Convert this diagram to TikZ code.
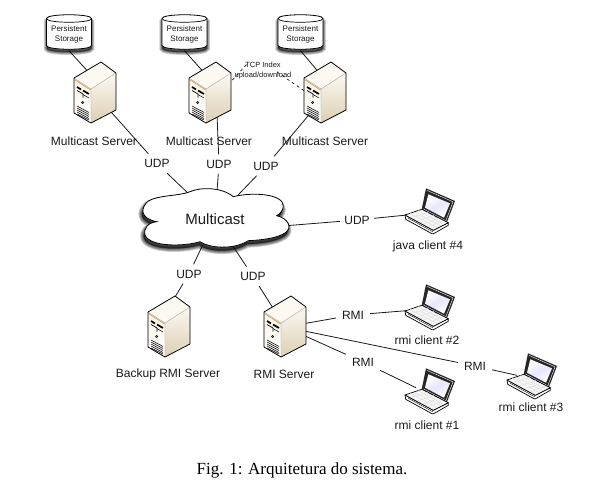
\documentclass[tikz,border=0pt]{standalone}
\usepackage{fontspec}
\setmainfont{Liberation Sans}
\newfontfamily\capfont{Liberation Serif}
\usetikzlibrary{shapes.geometric}
\pgfdeclarelayer{back}
\pgfsetlayers{back,main}
\definecolor{inkc}{HTML}{1A1A1A}
\definecolor{creamA}{HTML}{F8F3E6}
\definecolor{creamB}{HTML}{DCCFB2}
\definecolor{creamC}{HTML}{FBF9F2}
\definecolor{stripe}{HTML}{D9A860}
\newcommand{\cloudoutline}{(190,191.7) .. controls (200,187) and (222,187) .. (233.3,196.7)
 .. controls (253.3,191.7) and (283.3,194) .. (283.3,206) .. controls (283.3,210) and (280,214) .. (276.7,215.7)
 .. controls (288.3,218.3) and (293,228) .. (285,233) .. controls (276.7,238.3) and (262,240) .. (248.3,240.7)
 .. controls (233.3,250) and (210,248.3) .. (200,241.7)
 .. controls (183.3,246.7) and (150,247) .. (145,235) .. controls (143.3,228) and (148,222.7) .. (156.7,221.7)
 .. controls (140,218.3) and (140,208.3) .. (148.3,201) .. controls (158.3,195) and (180,196) .. (190,191.7) -- cycle}
\newcommand{\cylshadow}{(-22.5,-15.5) -- (-22.5,11.5) .. controls (-22.5,16.5) and (22.5,16.5) .. (22.5,11.5) -- (22.5,-15.5) .. controls (22.5,-20.5) and (-22.5,-20.5) .. (-22.5,-15.5) -- cycle}
\tikzset{
  x=1pt,y=-1pt,
  link/.style={draw=inkc,line width=.8pt},
  dashlink/.style={draw=inkc,line width=.7pt,dash pattern=on 3pt off 3pt},
  lab/.style={font=\fontsize{12}{14}\selectfont,text=inkc,inner sep=0pt},
  tag/.style={lab,minimum width=34pt,minimum height=19pt},
  srvnode/.style={circle,minimum size=40pt,inner sep=0pt},
  lapnode/.style={circle,minimum size=24pt,inner sep=0pt},
  cylnode/.style={rectangle,minimum width=45pt,minimum height=33pt,inner sep=0pt,align=center,
     font=\fontsize{8}{10}\selectfont,text=inkc},
  serverpic/.pic={
    \begin{scope}[shift={(-21,-15)},line join=round]
      \path[fill=creamC] (0,0) -- (27,-16) -- (42,-5) -- (17,11) -- cycle;
      \path[top color=creamC,bottom color=creamB] (17,11) -- (42,-5) -- (42,32) -- (17,45) -- cycle;
      \path[top color=creamA,bottom color=white] (0,0) -- (17,11) -- (17,45) -- (0,35) -- cycle;
      \draw[stripe,line width=.8pt] (.6,1.6) -- (16.6,12);
      \draw[black,line width=1.7pt] (3,9) -- (7,11.5) (9,12.5) -- (15,16);
      \draw[black,line width=.7pt] (3,12.5) -- (9,16) -- (9,19.5);
      \draw[black,line width=.5pt] (9,16.5) -- (15,20);
      \fill[black] (8.7,24.5) circle[radius=1.5pt];
      \fill[white] (8.7,24.5) circle[radius=.4pt];
      \draw[black,line width=.55pt] (3,28) -- (15,34.5) (3,30) -- (15,36.5) (3,32) -- (15,38.5) (3,34) -- (15,40.5) (3,36) -- (15,42);
      \draw[black,line width=.8pt] (0,0) -- (27,-16) -- (42,-5) -- (42,32) -- (17,45) -- (0,35) -- cycle;
      \draw[black,line width=.3pt,opacity=.4] (0,0) -- (17,11) -- (42,-5) (17,11) -- (17,45);
    \end{scope}
  },
  laptoppic/.pic={
    \begin{scope}[shift={(-22,2)},line join=round]
      \fill[black!85] (21,-26.7) -- (50,-14) -- (41.7,7.7) -- (16.7,-5.7) -- cycle;
      \draw[white,line width=.4pt] (22,-24.6) -- (48,-13.2) -- (40.8,5.8) -- (18.4,-6);
      \path[top color=white,bottom color=white,middle color=blue!10!white,shading angle=30] (23.3,-20.7) -- (45,-11.7) -- (39,2.7) -- (20,-7.3) -- cycle;
      \draw[black,line width=.7pt,fill=white] (0,0) -- (.7,4.3) -- (27,18.7) -- (28.6,18.7) -- (43.3,10.3) -- (43.3,7.7) -- (28.3,15.3) -- cycle;
      \draw[black,line width=.7pt,fill=black!3] (0,0) -- (16.7,-5.7) -- (43.3,7.7) -- (28.3,15.3) -- cycle;
      \draw[black!12,line width=.5pt] (5,-1.7) -- (32,12.5) (9,-3) -- (36,11) (13,-4.4) -- (39,9.5)
        (6,2.5) -- (23,-2.5) (12,6) -- (29,0.5) (18,9) -- (34,3.5) (23,12) -- (38,6);
      \draw[black,line width=.35pt] (3.2,3.2) -- (27.8,16.8);
    \end{scope}
  }
}
\begin{document}
\begin{tikzpicture}
\useasboundingbox (0,0) rectangle (605,493);
\begin{pgfonlayer}{back}
  \fill[white] (0,0) rectangle (605,493);
\end{pgfonlayer}

% cloud
\foreach \w in {1,2.5,4,5.5,7}{
  \draw[black,opacity=.18,line width=\w pt,fill=black,fill opacity=.18,yshift=-3.5pt,xshift=-1pt] \cloudoutline;
}
\draw[black,line width=.8pt,fill=white] \cloudoutline;
\node[ellipse,minimum width=120pt,minimum height=44pt,inner sep=0pt,font=\fontsize{15}{18}\selectfont,text=inkc] (cloud) at (215,219) {Multicast};

% storage
\foreach \n/\cx in {c1/69,c2/184.5,c3/300.5}{
  \begin{scope}[shift={(\cx,34)}]
    \foreach \w in {1,2.5,4,5.5}{
      \draw[black,opacity=.18,line width=\w pt,fill=black,fill opacity=.18,yshift=-3pt] \cylshadow;
    }
    \draw[black,line width=.8pt,fill=white] \cylshadow;
    \draw[black,line width=.7pt] (-22.5,-15.5) .. controls (-22.5,-10.5) and (22.5,-10.5) .. (22.5,-15.5);
  \end{scope}
  \node[cylnode] (\n) at (\cx,34) {Persistent\\Storage};
}

% servers
\node[srvnode] (s1) at (95,93) {};
\node[srvnode] (s2) at (210,93) {};
\node[srvnode] (s3) at (325,93) {};
\node[srvnode] (s4) at (169,327) {};
\node[srvnode] (s5) at (285,327) {};
\foreach \n in {s1,s2,s3,s4,s5}{ \pic at (\n) {serverpic}; }

% laptops
\node[lapnode] (l4) at (427,213) {};
\node[lapnode] (l2) at (427,309) {};
\node[lapnode] (l1) at (427,393) {};
\node[lapnode] (l3) at (529,378) {};
\foreach \n in {l1,l2,l3,l4}{ \pic at (\n) {laptoppic}; }

% labels
\node[lab] (n1) at (94,141) {Multicast Server};
\node[lab] (n2) at (209,141) {Multicast Server};
\node[lab] (n3) at (325,141) {Multicast Server};
\node[lab] (n4) at (168,374) {Backup RMI Server};
\node[lab] (n5) at (284,374) {RMI Server};
\node[lab] (n6) at (428,246) {java client \#4};
\node[lab] (n7) at (427,340) {rmi client \#2};
\node[lab] (n8) at (427,425) {rmi client \#1};
\node[lab] (n9) at (531,407) {rmi client \#3};
\node[tag] (u1) at (157,163.5) {UDP};
\node[tag] (u2) at (219,164) {UDP};
\node[tag] (u3) at (266,166) {UDP};
\node[tag] (u4) at (189,274) {UDP};
\node[tag] (u5) at (253,276.5) {UDP};
\node[tag] (u6) at (357,220) {UDP};
\node[tag] (r2) at (353,315) {RMI};
\node[tag] (r1) at (363,362) {RMI};
\node[tag] (r3) at (475,366) {RMI};
\node[font=\fontsize{7.5}{9.5}\selectfont,text=inkc,align=center,inner sep=0pt] (tcp) at (263,70.5) {TCP Index\\upload/download};
\coordinate (tcpa) at (247,64);
\coordinate (tcpb) at (277,72);
\node[font=\capfont\fontsize{17}{20}\selectfont,text=black,inner sep=0pt] (cap) at (302,470) {Fig. 1: Arquitetura do sistema.};

% connectors
\begin{pgfonlayer}{back}
  \draw[link] (c1.south) -- (s1.105);
  \draw[link] (c2.south) -- (s2.105);
  \draw[link] (c3.south) -- (s3.105);
  \draw[link] (s1.-50) -- (u1);
  \draw[link] (u1) -- (cloud);
  \draw[link] (s2.-70) -- (u2);
  \draw[link] (u2) -- (cloud);
  \draw[link] (s3.-125) -- (u3);
  \draw[link] (u3) -- (cloud);
  \draw[link] (cloud) -- (u4);
  \draw[link] (u4) -- (s4.90);
  \draw[link] (cloud) -- (u5);
  \draw[link] (u5) -- (s5);
  \draw[link] (cloud.-8) -- (u6);
  \draw[link] (u6) -- (l4);
  \draw[link] (s5) -- (r2);
  \draw[link] (r2) -- (l2);
  \draw[link] (s5) -- (r1);
  \draw[link] (r1) -- (l1);
  \draw[link] (s5) -- (r3);
  \draw[link] (r3) -- (l3);
  \draw[dashlink] (s2.25) -- (tcpa);
  \draw[dashlink] (tcpb) -- (s3.175);
\end{pgfonlayer}
\end{tikzpicture}
\end{document}
